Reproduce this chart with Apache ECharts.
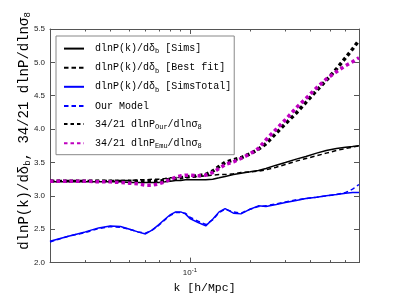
<!DOCTYPE html>
<html><head><meta charset="utf-8">
<script src="https://cdn.jsdelivr.net/npm/echarts@6/dist/echarts.min.js"></script>
<style>html,body{margin:0;padding:0;background:#fff}#c{width:399px;height:299px}</style>
</head><body><div id="c"></div>
<script>
const kValues = [0.02,0.025,0.03,0.035,0.04,0.045,0.05,0.055,0.06,0.065,0.07,0.075,0.08,0.085,0.09,0.095,0.1,0.11,0.12,0.13,0.14,0.15,0.165,0.18,0.2,0.22,0.24,0.27,0.3,0.34,0.38,0.43,0.48,0.54,0.6,0.65,0.7];
const simsValues = [3.21,3.21,3.21,3.21,3.21,3.21,3.20,3.20,3.20,3.20,3.20,3.21,3.22,3.23,3.23,3.24,3.24,3.24,3.24,3.25,3.27,3.29,3.32,3.34,3.36,3.38,3.41,3.46,3.50,3.55,3.59,3.64,3.68,3.71,3.73,3.74,3.75];
const bestFitValues = [3.23,3.23,3.23,3.23,3.23,3.23,3.23,3.24,3.24,3.25,3.25,3.26,3.27,3.27,3.28,3.28,3.29,3.29,3.30,3.31,3.32,3.32,3.33,3.35,3.36,3.37,3.39,3.43,3.47,3.52,3.56,3.60,3.64,3.68,3.71,3.73,3.75];
const simsTotalValues = [2.32,2.40,2.46,2.52,2.55,2.54,2.50,2.46,2.43,2.49,2.57,2.65,2.72,2.76,2.76,2.73,2.66,2.60,2.55,2.65,2.76,2.81,2.74,2.73,2.80,2.85,2.84,2.87,2.90,2.93,2.96,2.98,3.00,3.02,3.04,3.05,3.05];
const ourModelValues = [2.31,2.40,2.45,2.51,2.54,2.53,2.50,2.46,2.44,2.49,2.56,2.64,2.71,2.75,2.75,2.74,2.68,2.62,2.57,2.64,2.75,2.80,2.76,2.74,2.80,2.84,2.85,2.88,2.91,2.94,2.96,2.98,3.00,3.02,3.05,3.10,3.17];
const ourSigma8Values = [3.22,3.22,3.22,3.22,3.22,3.22,3.22,3.22,3.22,3.22,3.22,3.23,3.25,3.26,3.27,3.28,3.29,3.30,3.32,3.37,3.44,3.50,3.54,3.57,3.63,3.70,3.78,3.94,4.08,4.24,4.40,4.58,4.73,4.90,5.07,5.20,5.33];
const emuSigma8Values = [3.22,3.22,3.22,3.21,3.21,3.20,3.19,3.18,3.16,3.16,3.18,3.21,3.25,3.28,3.30,3.31,3.31,3.30,3.31,3.35,3.41,3.47,3.51,3.56,3.63,3.71,3.84,4.00,4.14,4.32,4.46,4.62,4.75,4.86,4.95,5.01,5.07];
const xMajorTicks = [0.1];
const xMinorTicks = [0.02,0.03,0.04,0.05,0.06,0.07,0.08,0.09,0.2,0.3,0.4,0.5,0.6,0.7];
const xTickLabels = ['10{sup|-1}'];
const legendNames = ['Sims','Best fit','SimsTotal','Our Model','Our','Emu'];
const legendLabels = [
  '{m|dlnP(k)/dδ}{s|b}{m| [Sims]}',
  '{m|dlnP(k)/dδ}{s|b}{m| [Best fit]}',
  '{m|dlnP(k)/dδ}{s|b}{m| [SimsTotal]}',
  '{m|Our Model}',
  '{m|34/21 dlnP}{s|Our}{m|/dlnσ}{s|8}',
  '{m|34/21 dlnP}{s|Emu}{m|/dlnσ}{s|8}'
];

const pairs = v => kValues.map((k, i) => [k, v[i]]);
const FONT = 'Liberation Mono';
const AX = '#555';
const chart = echarts.init(document.getElementById('c'), null, {renderer: 'canvas'});

function xAxisDef(pos, ticks, len, showLine, showLabel) {
  return {
    type: 'log', logBase: 10, min: 0.02, max: 0.7, position: pos,
    axisLine: {show: showLine, lineStyle: {color: AX, width: 1}},
    axisTick: {show: true, inside: true, length: len, customValues: ticks, lineStyle: {color: AX}},
    axisLabel: showLabel ? {
      show: true, customValues: xMajorTicks, margin: 5,
      formatter: () => xTickLabels[0],
      color: '#222', fontFamily: 'Liberation Sans', fontSize: 8,
      rich: {sup: {fontSize: 6, fontFamily: 'Liberation Sans', color: '#222', padding: [0, 0, 5, 0]}}
    } : {show: false},
    splitLine: {show: false}, minorTick: {show: false}
  };
}
function yAxisDef(pos, showLabel) {
  return {
    type: 'value', min: 2, max: 5.5, interval: 0.5, position: pos,
    axisLine: {show: true, lineStyle: {color: AX, width: 1}},
    axisTick: {show: true, inside: true, length: 5, lineStyle: {color: AX}},
    axisLabel: {show: showLabel, margin: 5, formatter: v => v.toFixed(1), color: '#222', fontFamily: 'Liberation Sans', fontSize: 8},
    splitLine: {show: false}
  };
}
const xs = [
  xAxisDef('bottom', xMajorTicks, 5, true, true),
  xAxisDef('bottom', xMinorTicks, 2.5, false, false),
  xAxisDef('top', xMajorTicks, 5, true, false),
  xAxisDef('top', xMinorTicks, 2.5, false, false)
];
xs[0].name = 'k [h/Mpc]';
xs[0].nameLocation = 'middle';
xs[0].nameGap = 13;
xs[0].nameTextStyle = {fontFamily: FONT, fontSize: 11.5, color: '#000', verticalAlign: 'top'};

function line(name, data, color, width, type) {
  return {
    name, type: 'line', data: pairs(data), xAxisIndex: 0, yAxisIndex: 0,
    symbol: 'none', showSymbol: false, animation: false,
    lineStyle: {color, width, type, cap: 'butt'}, itemStyle: {color}
  };
}
const rich = {
  m: {fontFamily: FONT, fontSize: 10, color: '#000'},
  s: {fontFamily: FONT, fontSize: 7, color: '#000', padding: [6, 0, 0, 0]}
};
chart.setOption({
  animation: false,
  grid: {left: 50, right: 40, top: 29, bottom: 31, containLabel: false},
  xAxis: xs,
  yAxis: [yAxisDef('left', true), yAxisDef('right', false)],
  legend: {
    orient: 'vertical', left: 56, top: 36, padding: [7, 3, 5, 7],
    itemWidth: 20, itemHeight: 14, itemGap: 7,
    backgroundColor: '#fff', borderColor: '#888', borderWidth: 1, borderRadius: 0,
    data: legendNames,
    itemStyle: {opacity: 0, borderWidth: 0},
    formatter: n => legendLabels[legendNames.indexOf(n)],
    textStyle: {fontFamily: FONT, fontSize: 10, color: '#000', rich, padding: [0, 0, 0, 6]}
  },
  graphic: [{
    type: 'text', x: 24, y: 131, rotation: Math.PI / 2,
    style: {
      text: '{m|dlnP(k)/dδ}{s|b}{m|, 34/21 dlnP/dlnσ}{s|8}',
      align: 'center', verticalAlign: 'middle',
      rich: {
        m: {fontFamily: FONT, fontSize: 14, fill: '#000', color: '#000'},
        s: {fontFamily: FONT, fontSize: 9, fill: '#000', color: '#000', padding: [8, 0, 0, 0]}
      }
    }
  }],
  series: [
    line('Sims', simsValues, '#000', 1.5, 'solid'),
    line('Best fit', bestFitValues, '#000', 1.5, [4.5, 3]),
    line('SimsTotal', simsTotalValues, '#0000ff', 1.5, 'solid'),
    line('Our Model', ourModelValues, '#0000ff', 1.5, [4.5, 3]),
    line('Our', ourSigma8Values, '#000', 3.5, [3.5, 3]),
    line('Emu', emuSigma8Values, '#bf00bf', 3.5, [3.5, 3])
  ]
});
</script></body></html>
